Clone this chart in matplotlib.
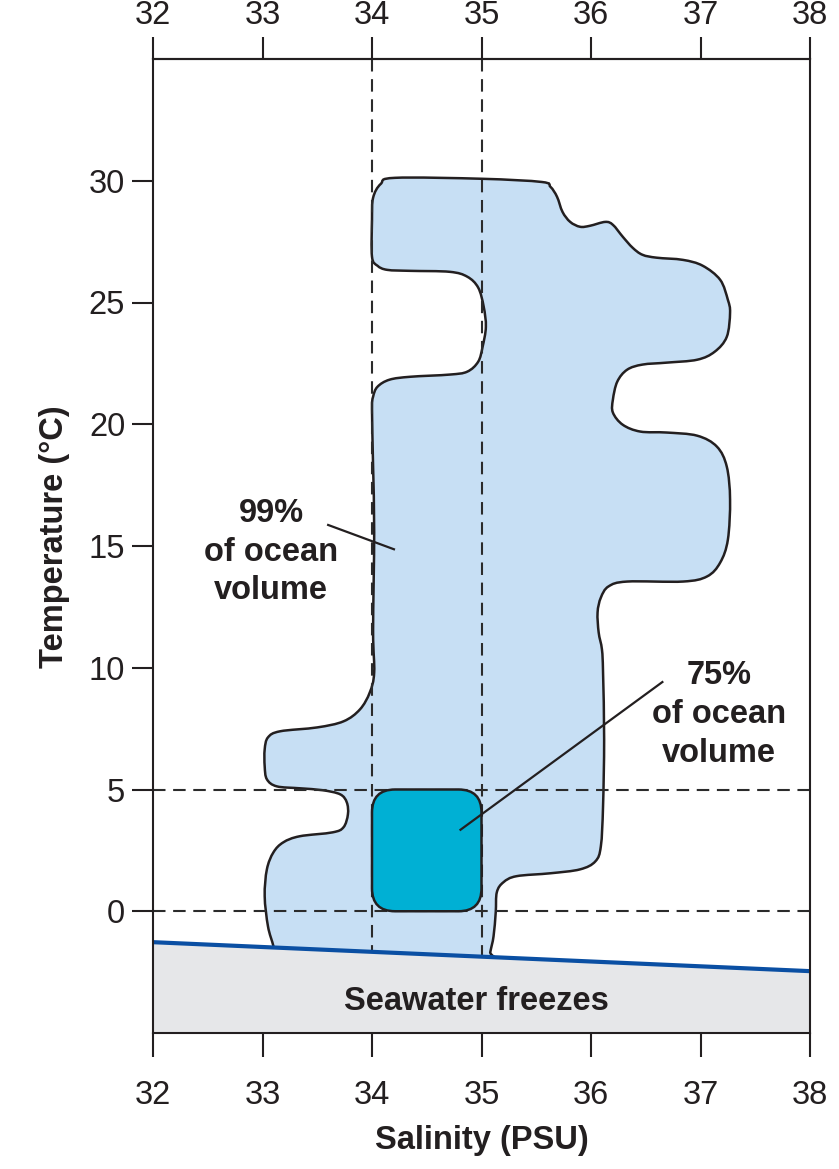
import matplotlib
matplotlib.use("Agg")
import matplotlib.pyplot as plt
import numpy as np
from matplotlib.path import Path
from matplotlib.patches import PathPatch, FancyBboxPatch

plt.rcParams['font.family'] = ['Liberation Sans', 'DejaVu Sans']
plt.rcParams['lines.scale_dashes'] = False

# ---------------- data ----------------
sal_ticks = [32, 33, 34, 35, 36, 37, 38]
temp_ticks = [0, 5, 10, 15, 20, 25, 30]

# freezing line of seawater
freeze_sal = [32, 38]
freeze_temp = [-1.27, -2.46]

# reference lines
ref_sal = [34, 35]
ref_temp = [0, 5]

# outline of the region holding 99% of ocean volume (salinity, temperature)
blob_sal = [34.00, 34.01, 34.08, 34.21, 35.01, 35.55, 35.63, 35.69, 35.74, 35.81,
            35.90, 35.99, 36.13, 36.20, 36.29, 36.38, 36.47, 36.60, 36.84, 37.02,
            37.18, 37.25, 37.27, 37.24, 37.13, 36.97, 36.69, 36.47, 36.33, 36.24,
            36.20, 36.20, 36.29, 36.45, 36.69, 36.97, 37.15, 37.24, 37.27, 37.25,
            37.18, 37.06, 36.84, 36.33, 36.16, 36.09, 36.06, 36.07, 36.10, 36.11,
            36.12, 36.11, 36.09, 36.04, 35.90, 35.63, 35.32, 35.20, 35.14, 35.13,
            35.11, 35.08, 35.05, 33.12, 33.10, 33.05, 33.02, 33.04, 33.10, 33.19,
            33.34, 33.64, 33.74, 33.78, 33.77, 33.71, 33.55, 33.34, 33.13, 33.04,
            33.02, 33.02, 33.05, 33.16, 33.50, 33.74, 33.89, 33.98, 34.02, 34.01,
            34.02, 34.01, 34.00, 34.01, 34.05, 34.16, 34.35, 34.71, 34.87, 34.97,
            35.01, 35.04, 35.02, 34.97, 34.87, 34.71, 34.35, 34.14, 34.05, 34.00]
blob_temp = [28.40, 29.30, 29.87, 30.12, 30.08, 29.95, 29.75, 29.34, 28.72, 28.31,
             28.11, 28.15, 28.31, 28.19, 27.70, 27.25, 26.96, 26.84, 26.75, 26.51,
             25.93, 25.11, 24.58, 23.59, 22.98, 22.65, 22.53, 22.45, 22.24, 21.75,
             21.01, 20.48, 19.98, 19.70, 19.66, 19.53, 19.08, 18.26, 16.91, 15.26,
             14.32, 13.75, 13.54, 13.54, 13.34, 12.88, 12.27, 11.45, 10.75, 9.81,
             7.06, 4.31, 2.67, 2.05, 1.72, 1.56, 1.44, 1.19, 0.78, -0.04,
             -1.03, -1.68, -2.40, -2.00, -1.44, -0.62, 0.62, 1.72, 2.42, 2.83,
             3.08, 3.24, 3.45, 3.98, 4.47, 4.80, 4.97, 5.05, 5.13, 5.42,
             5.95, 6.65, 7.14, 7.39, 7.55, 7.80, 8.29, 8.99, 9.81, 11.50,
             15.55, 18.26, 20.60, 21.13, 21.54, 21.83, 21.95, 22.04, 22.16, 22.57,
             23.18, 24.00, 24.83, 25.61, 26.06, 26.26, 26.30, 26.34, 26.51, 26.88]

# 75% of ocean volume box
core_sal = [34.0, 35.0]
core_temp = [0.0, 5.0]

# annotations
label99 = "99%\nof ocean\nvolume"
label99_pos = (33.08, 14.75)
leader99 = ([33.59, 34.21], [15.88, 14.85])
label75 = "75%\nof ocean\nvolume"
label75_pos = (37.17, 8.08)
leader75 = ([36.66, 34.80], [9.44, 3.32])
freeze_label = "Seawater freezes"
freeze_label_pos = (34.95, -3.69)

# ---------------- styles ----------------
INK = '#231f20'
BLOB = '#c7dff4'
CORE = '#00b0d4'
ICE = '#e6e7e9'
FREEZE = '#0a4fa3'

fig = plt.figure(figsize=(8.39, 11.69), dpi=100)
ax = fig.add_axes([153/839, 1-1033/1169, 657/839, 974/1169])
ax.set_xlim(32, 38)
ax.set_ylim(-5, 35)


def smooth_closed(xs, ys):
    P = np.column_stack([xs, ys])
    n = len(P)
    verts = [P[0]]
    codes = [Path.MOVETO]
    for i in range(n):
        p0, p1, p2, p3 = P[i-1], P[i], P[(i+1) % n], P[(i+2) % n]
        c1 = p1 + (p2 - p0) / 6.0
        c2 = p2 - (p3 - p1) / 6.0
        verts += [c1, c2, p2]
        codes += [Path.CURVE4] * 3
    verts.append(P[0])
    codes.append(Path.CLOSEPOLY)
    return Path(verts, codes)


blob = PathPatch(smooth_closed(blob_sal, blob_temp), facecolor=BLOB,
                 edgecolor=INK, lw=1.8, zorder=1)
ax.add_patch(blob)

dash = (0, (9, 5.5))
for s in ref_sal:
    ax.plot([s, s], [35, np.interp(s, freeze_sal, freeze_temp)], color='#2b2b2b',
            lw=1.5, linestyle=dash, zorder=2)
for t in ref_temp:
    ax.plot([32, 38], [t, t], color='#2b2b2b', lw=1.5, linestyle=dash, zorder=2)

aspect = 109.5 / 24.37
core = FancyBboxPatch((core_sal[0], core_temp[0]), core_sal[1]-core_sal[0],
                      core_temp[1]-core_temp[0],
                      boxstyle="round,pad=0,rounding_size=0.21",
                      mutation_aspect=aspect, facecolor=CORE, edgecolor=INK,
                      lw=1.8, zorder=3)
ax.add_patch(core)

ax.plot(*leader99, color=INK, lw=1.6, zorder=4, solid_capstyle='butt')
ax.plot(*leader75, color=INK, lw=1.6, zorder=4, solid_capstyle='butt')

ax.fill_between(freeze_sal, [-5, -5], freeze_temp, color=ICE, zorder=5, lw=0)
ax.plot(freeze_sal, freeze_temp, color=FREEZE, lw=3, zorder=6,
        solid_capstyle='butt')

tkw = dict(fontsize=23.5, fontweight='bold', color=INK, ha='center', va='center',
           zorder=7, linespacing=1.32)
ax.text(*label99_pos, label99, **tkw)
ax.text(*label75_pos, label75, **tkw)
ax.text(*freeze_label_pos, freeze_label, **tkw)

# axes styling
for sp in ax.spines.values():
    sp.set_color(INK)
    sp.set_linewidth(1.5)
    sp.set_zorder(8)

ax.set_xticks(sal_ticks)
ax.set_yticks(temp_ticks)
ax.tick_params(axis='x', direction='out', length=17, width=1.5, pad=17,
               labelsize=23.5, colors=INK)
ax.tick_params(axis='y', direction='out', length=15, width=1.5, pad=5,
               labelsize=23.5, colors=INK)

top = ax.secondary_xaxis('top')
top.set_xticks(sal_ticks)
top.tick_params(direction='out', length=16, width=1.5, pad=4, labelsize=23.5,
                colors=INK)
top.spines['top'].set_linewidth(1.5)
top.spines['top'].set_color(INK)

fig.text(55/839, 1-537/1169, 'Temperature (°C)', rotation=90, ha='center',
         va='center', fontsize=23.5, fontweight='bold', color=INK)
fig.text(481.5/839, 1-1140/1169, 'Salinity (PSU)', ha='center', va='center',
         fontsize=23.5, fontweight='bold', color=INK)

fig.savefig('out.png', dpi=100)
